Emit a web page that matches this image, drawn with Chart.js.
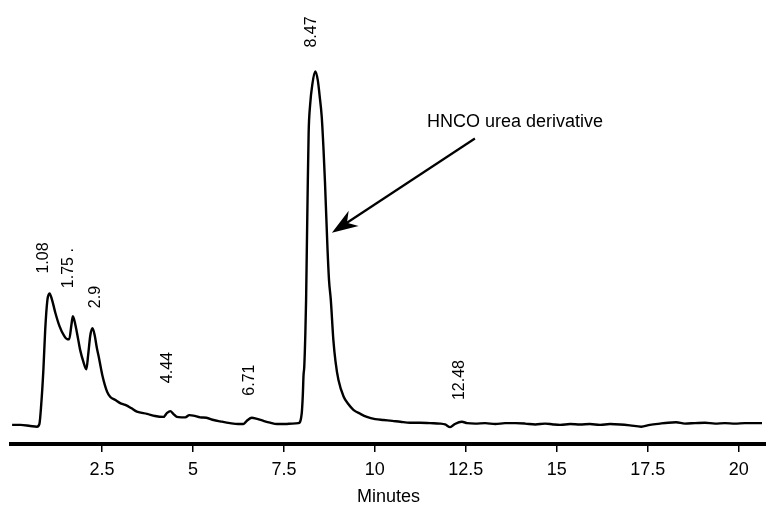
<!DOCTYPE html>
<html>
<head>
<meta charset="utf-8">
<script src="https://cdn.jsdelivr.net/npm/chart.js@4/dist/chart.umd.min.js"></script>
<style>
  html, body { margin: 0; padding: 0; background: #fff; }
  #wrap { width: 766px; height: 510px; position: relative; }
</style>
</head>
<body>
<div id="wrap"><canvas id="chart"></canvas></div>
<script>
// chromatogram trace (time in minutes, signal in % full scale)
const minutes = [0.03, 0.26, 0.53, 0.71, 0.78, 0.83, 0.89, 0.94, 1.00, 1.06, 1.13, 1.22, 1.33, 1.45, 1.55, 1.60,
  1.66, 1.70, 1.77, 1.85, 1.90, 1.99, 2.07, 2.12, 2.18, 2.24, 2.30, 2.36, 2.41, 2.51, 2.64, 2.73, 2.87, 3.00,
  3.14, 3.30, 3.46, 3.74, 3.96, 4.19, 4.29, 4.38, 4.46, 4.56, 4.68, 4.79, 4.90, 5.01, 5.20, 5.37, 5.57, 5.75,
  6.02, 6.24, 6.39, 6.49, 6.62, 6.74, 6.94, 7.12, 7.31, 7.54, 7.73, 7.90, 7.99, 8.02, 8.04, 8.06, 8.09, 8.11,
  8.13, 8.15, 8.18, 8.22, 8.28, 8.36, 8.43, 8.48, 8.54, 8.59, 8.63, 8.70, 8.74, 8.79, 8.86, 8.92, 9.00, 9.14,
  9.27, 9.41, 9.60, 9.78, 10.01, 10.24, 10.48, 10.70, 10.97, 11.24, 11.52, 11.79, 11.93, 12.07, 12.20, 12.39,
  12.54, 12.76, 13.03, 13.31, 13.58, 13.86, 14.13, 14.41, 14.68, 14.90, 15.09, 15.37, 15.64, 15.91, 16.19,
  16.46, 16.74, 17.01, 17.32, 17.56, 17.84, 18.06, 18.28, 18.52, 18.80, 19.07, 19.35, 19.62, 19.90, 20.17,
  20.45, 20.64];
const signal = [4.3, 4.3, 4.05, 3.9, 4.5, 8.8, 16.7, 25.7, 32.4, 33.9, 32.4, 29.5, 26.6, 24.5, 23.6, 23.6,
  26.8, 28.8, 26.8, 23.4, 21.2, 18.5, 16.8, 20.0, 24.5, 26.1, 24.5, 21.6, 19.7, 15.5, 11.8, 10.6, 9.9, 9.2,
  8.8, 8.1, 7.3, 6.8, 6.3, 6.1, 7.0, 7.4, 6.8, 6.1, 6.0, 6.0, 6.5, 6.4, 6.0, 5.9, 5.4, 5.1,
  4.7, 4.5, 4.5, 5.3, 5.9, 5.7, 5.2, 4.8, 4.5, 4.5, 4.6, 4.7, 6.9, 11.0, 15.5, 17.4, 25.0, 32.4,
  43.7, 55.0, 70.0, 76.3, 80.9, 83.9, 82.0, 78.6, 73.7, 66.2, 58.8, 43.7, 36.9, 32.4, 23.4, 18.5, 14.4, 10.7,
  9.0, 7.7, 6.8, 6.1, 5.6, 5.4, 5.2, 5.0, 4.8, 4.8, 4.7, 4.6, 4.4, 3.8, 4.5, 5.0,
  4.7, 4.6, 4.7, 4.5, 4.7, 4.7, 4.6, 4.4, 4.6, 4.4, 4.3, 4.5, 4.4, 4.5, 4.3,
  4.5, 4.4, 4.2, 3.9, 4.3, 4.6, 4.8, 4.9, 4.6, 4.7, 4.8, 4.6, 4.7, 4.6, 4.7,
  4.7, 4.7];

const tickValues = [2.5, 5, 7.5, 10, 12.5, 15, 17.5, 20];

// retention time labels written above the peaks
const peakLabels = ['1.08', '1.75 .', '2.9', '4.44', '6.71', '8.47', '12.48'];
const peakLabelAt = [[0.89, 41.9], [1.58, 39.6], [2.32, 33.1], [4.29, 17.2], [6.57, 14.4], [8.27, 92.8], [12.34, 14.4]];

const calloutText = 'HNCO urea derivative';
const calloutAt = [11.43, 72.6];
const arrowFrom = [12.75, 68.8];
const arrowTo = [8.82, 47.6];

const FONT = '"Liberation Sans", Arial, Helvetica, sans-serif';

const annotations = {
  id: 'annotations',
  afterDatasetsDraw(chart) {
    const { ctx, scales: { x, y } } = chart;
    ctx.save();
    ctx.fillStyle = '#000';
    ctx.strokeStyle = '#000';

    // rotated peak labels
    ctx.font = '16px ' + FONT;
    ctx.textAlign = 'center';
    ctx.textBaseline = 'middle';
    peakLabels.forEach((t, i) => {
      const px = x.getPixelForValue(peakLabelAt[i][0]);
      const py = y.getPixelForValue(peakLabelAt[i][1]);
      ctx.save();
      ctx.translate(px, py);
      ctx.rotate(-Math.PI / 2);
      ctx.fillText(t, 0, 0);
      ctx.restore();
    });

    // callout text
    ctx.font = '18px ' + FONT;
    ctx.textAlign = 'left';
    ctx.fillText(calloutText, x.getPixelForValue(calloutAt[0]), y.getPixelForValue(calloutAt[1]));

    // arrow
    const x1 = x.getPixelForValue(arrowFrom[0]), y1 = y.getPixelForValue(arrowFrom[1]);
    const x2 = x.getPixelForValue(arrowTo[0]), y2 = y.getPixelForValue(arrowTo[1]);
    const ang = Math.atan2(y2 - y1, x2 - x1);
    const headLen = 26, headW = 9, notch = 18;
    ctx.lineWidth = 2.2;
    ctx.beginPath();
    ctx.moveTo(x1, y1);
    ctx.lineTo(x2 - Math.cos(ang) * notch, y2 - Math.sin(ang) * notch);
    ctx.stroke();
    ctx.beginPath();
    ctx.moveTo(x2, y2);
    ctx.lineTo(x2 - Math.cos(ang) * headLen - Math.sin(ang) * headW, y2 - Math.sin(ang) * headLen + Math.cos(ang) * headW);
    ctx.lineTo(x2 - Math.cos(ang) * notch, y2 - Math.sin(ang) * notch);
    ctx.lineTo(x2 - Math.cos(ang) * headLen + Math.sin(ang) * headW, y2 - Math.sin(ang) * headLen - Math.cos(ang) * headW);
    ctx.closePath();
    ctx.fill();
    ctx.restore();
  }
};

new Chart(document.getElementById('chart'), {
  type: 'line',
  data: {
    datasets: [{
      data: minutes.map((m, i) => ({ x: m, y: signal[i] })),
      borderColor: '#000',
      borderWidth: 2.4,
      pointRadius: 0,
      fill: false,
      cubicInterpolationMode: 'monotone'
    }]
  },
  options: {
    responsive: true,
    maintainAspectRatio: false,
    animation: false,
    layout: { padding: { left: 11, right: 0, top: 0, bottom: 0 } },
    plugins: { legend: { display: false }, tooltip: { enabled: false } },
    scales: {
      x: {
        type: 'linear',
        min: 0,
        max: 20.75,
        afterBuildTicks: (scale) => { scale.ticks = tickValues.map(v => ({ value: v })); },
        afterFit: (scale) => { scale.height = 66; },
        ticks: {
          color: '#000',
          font: { family: FONT, size: 18 },
          padding: 7,
          maxRotation: 0,
          autoSkip: false,
          callback: (v) => String(v)
        },
        grid: { drawOnChartArea: false, drawTicks: true, tickLength: 8, color: '#000', lineWidth: 1.5 },
        border: { display: true, color: '#000', width: 4 },
        title: {
          display: true,
          text: 'Minutes',
          color: '#000',
          font: { family: FONT, size: 18 },
          padding: { top: 0, bottom: 2 }
        }
      },
      y: { display: false, min: 0, max: 100 }
    }
  },
  plugins: [annotations]
});
</script>
</body>
</html>
